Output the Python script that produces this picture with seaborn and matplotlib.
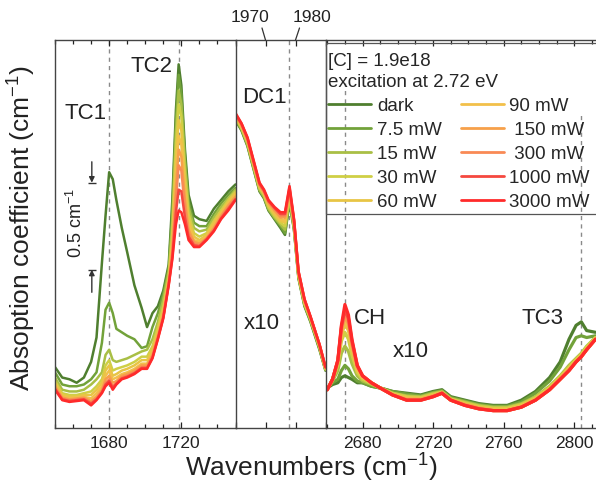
import matplotlib as mpl
import matplotlib.pyplot as plt
from matplotlib.ticker import MultipleLocator, NullLocator
from matplotlib.patches import Rectangle
from matplotlib.transforms import IdentityTransform
import seaborn as sns
import pandas as pd

sns.set_theme(style="ticks")
mpl.rcParams['font.family'] = ['Liberation Sans', 'DejaVu Sans']
mpl.rcParams['mathtext.fontset'] = 'custom'
mpl.rcParams['mathtext.rm'] = 'Liberation Sans'
mpl.rcParams['mathtext.it'] = 'Liberation Sans:italic'

# excitation powers and line colours
powers = ["dark", "7.5 mW", "15 mW", "30 mW", "60 mW",
          "90 mW", "150 mW", "300 mW", "1000 mW", "3000 mW"]
legend_labels = ["dark", "7.5 mW", "15 mW", "30 mW", "60 mW",
                 "90 mW", " 150 mW", " 300 mW", "1000 mW", "3000 mW"]
colors = ["#4f7f2f", "#72a23a", "#a9bf45", "#cfcf45", "#e8c545",
          "#f2c04a", "#f7a04a", "#f98a55", "#f5483f", "#ff2a2a"]

# TC1 / TC2 region
tc_wn = [1650, 1654, 1658, 1662, 1666, 1670, 1673, 1676, 1678, 1680, 1682, 1684,
         1687, 1690, 1694, 1698, 1701, 1704, 1707, 1710, 1713, 1715, 1717, 1718.5,
         1720, 1722, 1724, 1727, 1730, 1734, 1738, 1742, 1746, 1750]
tc_abs = [
    [0.35, 0.29, 0.28, 0.26, 0.29, 0.38, 0.52, 0.95, 1.22, 1.47, 1.43, 1.31, 1.15, 1.01, 0.82, 0.69, 0.58,
     0.66, 0.70, 0.79, 0.94, 1.31, 1.83, 2.09, 1.97, 1.60, 1.34, 1.22, 1.20, 1.19, 1.26, 1.31, 1.36, 1.40],
    [0.32, 0.25, 0.24, 0.24, 0.25, 0.28, 0.32, 0.49, 0.68, 0.72, 0.66, 0.57, 0.55, 0.53, 0.51, 0.46, 0.47,
     0.58, 0.66, 0.77, 0.92, 1.25, 1.77, 2.03, 1.92, 1.56, 1.30, 1.18, 1.16, 1.16, 1.23, 1.29, 1.34, 1.38],
    [0.29, 0.22, 0.21, 0.21, 0.22, 0.25, 0.28, 0.32, 0.42, 0.45, 0.39, 0.38, 0.39, 0.40, 0.42, 0.44, 0.45,
     0.51, 0.61, 0.74, 0.90, 1.18, 1.70, 1.94, 1.86, 1.52, 1.27, 1.15, 1.13, 1.14, 1.21, 1.27, 1.32, 1.37],
    [0.27, 0.20, 0.19, 0.19, 0.20, 0.21, 0.24, 0.28, 0.36, 0.39, 0.33, 0.34, 0.35, 0.36, 0.38, 0.41, 0.41,
     0.47, 0.58, 0.70, 0.87, 1.12, 1.62, 1.86, 1.79, 1.46, 1.23, 1.12, 1.10, 1.12, 1.19, 1.25, 1.31, 1.36],
    [0.26, 0.19, 0.18, 0.18, 0.19, 0.19, 0.22, 0.26, 0.33, 0.36, 0.30, 0.31, 0.33, 0.34, 0.36, 0.39, 0.39,
     0.45, 0.56, 0.68, 0.86, 1.08, 1.54, 1.77, 1.71, 1.41, 1.20, 1.10, 1.08, 1.11, 1.18, 1.24, 1.30, 1.35],
    [0.25, 0.18, 0.17, 0.175, 0.18, 0.17, 0.20, 0.24, 0.30, 0.33, 0.28, 0.29, 0.31, 0.32, 0.34, 0.37, 0.37,
     0.43, 0.54, 0.66, 0.85, 1.05, 1.46, 1.68, 1.63, 1.36, 1.17, 1.08, 1.07, 1.10, 1.16, 1.23, 1.29, 1.34],
    [0.24, 0.175, 0.165, 0.17, 0.175, 0.155, 0.18, 0.22, 0.28, 0.30, 0.26, 0.27, 0.30, 0.31, 0.33, 0.36, 0.36,
     0.42, 0.53, 0.65, 0.84, 1.02, 1.38, 1.60, 1.56, 1.31, 1.14, 1.07, 1.06, 1.09, 1.15, 1.22, 1.28, 1.33],
    [0.23, 0.17, 0.16, 0.165, 0.17, 0.145, 0.17, 0.21, 0.26, 0.28, 0.24, 0.26, 0.29, 0.30, 0.32, 0.35, 0.35,
     0.41, 0.52, 0.64, 0.83, 1.00, 1.31, 1.51, 1.48, 1.26, 1.12, 1.06, 1.05, 1.09, 1.14, 1.21, 1.27, 1.32],
    [0.225, 0.165, 0.155, 0.16, 0.165, 0.14, 0.165, 0.205, 0.25, 0.27, 0.23, 0.255, 0.285, 0.295, 0.315, 0.345,
     0.345, 0.405, 0.515, 0.635, 0.825, 0.98, 1.24, 1.37, 1.36, 1.21, 1.10, 1.05, 1.045, 1.085, 1.135, 1.205,
     1.26, 1.315],
    [0.22, 0.16, 0.15, 0.155, 0.16, 0.13, 0.16, 0.20, 0.24, 0.26, 0.22, 0.25, 0.28, 0.29, 0.31, 0.34, 0.34,
     0.40, 0.51, 0.63, 0.82, 0.97, 1.17, 1.25, 1.24, 1.17, 1.08, 1.04, 1.04, 1.08, 1.13, 1.20, 1.25, 1.31],
]

# DC1 region (x10)
dc_wn = [1960, 1962, 1964, 1966, 1968, 1969.5, 1971, 1973, 1975, 1976.5, 1978, 1979.5,
         1981, 1983, 1985, 1988, 1990]
dc_abs = [
    [1.77, 1.71, 1.62, 1.49, 1.36, 1.32, 1.25, 1.20, 1.15, 1.11, 1.30, 1.14, 0.86, 0.70, 0.61, 0.45, 0.33],
    [1.775, 1.715, 1.625, 1.495, 1.365, 1.325, 1.255, 1.205, 1.16, 1.12, 1.31, 1.145, 0.865, 0.705, 0.615, 0.455, 0.332],
    [1.78, 1.72, 1.63, 1.50, 1.37, 1.33, 1.26, 1.21, 1.17, 1.14, 1.32, 1.15, 0.87, 0.71, 0.62, 0.46, 0.335],
    [1.785, 1.725, 1.64, 1.51, 1.38, 1.34, 1.27, 1.22, 1.18, 1.16, 1.33, 1.16, 0.875, 0.715, 0.625, 0.465, 0.338],
    [1.79, 1.73, 1.645, 1.515, 1.385, 1.345, 1.28, 1.23, 1.19, 1.18, 1.34, 1.17, 0.88, 0.72, 0.63, 0.47, 0.34],
    [1.795, 1.735, 1.65, 1.52, 1.39, 1.35, 1.29, 1.24, 1.20, 1.19, 1.35, 1.18, 0.885, 0.725, 0.632, 0.472, 0.342],
    [1.80, 1.74, 1.655, 1.525, 1.395, 1.355, 1.295, 1.25, 1.21, 1.21, 1.36, 1.185, 0.89, 0.73, 0.635, 0.475, 0.345],
    [1.80, 1.745, 1.66, 1.53, 1.40, 1.36, 1.30, 1.26, 1.22, 1.22, 1.37, 1.19, 0.895, 0.735, 0.638, 0.478, 0.347],
    [1.805, 1.75, 1.665, 1.535, 1.405, 1.365, 1.305, 1.265, 1.23, 1.23, 1.38, 1.195, 0.90, 0.74, 0.64, 0.48, 0.35],
    [1.81, 1.75, 1.67, 1.54, 1.41, 1.37, 1.31, 1.27, 1.24, 1.24, 1.39, 1.20, 0.90, 0.74, 0.64, 0.48, 0.35],
]

# CH / TC3 region (x10)
ch_wn = [2660, 2663, 2666, 2668, 2670, 2672, 2674, 2677, 2680, 2685, 2690, 2697, 2705, 2713, 2720,
         2725, 2730, 2738, 2746, 2754, 2762, 2770, 2778, 2786, 2792, 2797, 2801, 2804, 2807, 2812]
ch_abs = [
    [0.23, 0.25, 0.26, 0.29, 0.30, 0.29, 0.28, 0.26, 0.26, 0.24, 0.23, 0.21, 0.20, 0.19, 0.21,
     0.22, 0.18, 0.16, 0.14, 0.13, 0.13, 0.16, 0.21, 0.29, 0.38, 0.51, 0.59, 0.61, 0.56, 0.55],
    [0.23, 0.26, 0.28, 0.33, 0.36, 0.34, 0.30, 0.27, 0.26, 0.24, 0.23, 0.21, 0.195, 0.185, 0.205,
     0.215, 0.175, 0.155, 0.135, 0.125, 0.125, 0.15, 0.20, 0.27, 0.35, 0.45, 0.52, 0.53, 0.52, 0.53],
    [0.225, 0.27, 0.33, 0.43, 0.47, 0.44, 0.37, 0.30, 0.27, 0.25, 0.23, 0.20, 0.185, 0.18, 0.20,
     0.21, 0.17, 0.15, 0.13, 0.12, 0.12, 0.14, 0.18, 0.24, 0.30, 0.36, 0.40, 0.43, 0.47, 0.52],
    [0.225, 0.275, 0.36, 0.50, 0.55, 0.51, 0.42, 0.32, 0.28, 0.255, 0.23, 0.20, 0.18, 0.175, 0.195,
     0.205, 0.165, 0.145, 0.125, 0.115, 0.115, 0.135, 0.175, 0.235, 0.295, 0.35, 0.395, 0.425, 0.465, 0.52],
    [0.22, 0.28, 0.37, 0.53, 0.60, 0.56, 0.45, 0.33, 0.29, 0.26, 0.23, 0.195, 0.175, 0.17, 0.19,
     0.205, 0.165, 0.14, 0.12, 0.11, 0.11, 0.13, 0.17, 0.23, 0.29, 0.345, 0.39, 0.42, 0.46, 0.515],
    [0.22, 0.28, 0.38, 0.55, 0.62, 0.58, 0.47, 0.34, 0.29, 0.26, 0.23, 0.195, 0.17, 0.165, 0.185,
     0.20, 0.16, 0.135, 0.115, 0.105, 0.105, 0.125, 0.165, 0.225, 0.285, 0.34, 0.385, 0.415, 0.455, 0.515],
    [0.22, 0.28, 0.38, 0.56, 0.64, 0.60, 0.48, 0.35, 0.30, 0.26, 0.23, 0.19, 0.165, 0.165, 0.185,
     0.20, 0.16, 0.135, 0.115, 0.10, 0.10, 0.12, 0.16, 0.22, 0.28, 0.335, 0.38, 0.41, 0.45, 0.51],
    [0.22, 0.28, 0.385, 0.57, 0.66, 0.62, 0.49, 0.355, 0.30, 0.26, 0.23, 0.19, 0.16, 0.16, 0.18,
     0.20, 0.16, 0.13, 0.11, 0.10, 0.10, 0.12, 0.16, 0.22, 0.28, 0.33, 0.38, 0.41, 0.45, 0.51],
    [0.22, 0.28, 0.39, 0.58, 0.68, 0.63, 0.50, 0.36, 0.30, 0.26, 0.23, 0.19, 0.16, 0.16, 0.18,
     0.20, 0.16, 0.13, 0.11, 0.10, 0.10, 0.12, 0.16, 0.22, 0.28, 0.33, 0.38, 0.41, 0.45, 0.51],
    [0.22, 0.28, 0.39, 0.59, 0.71, 0.65, 0.51, 0.36, 0.30, 0.26, 0.23, 0.19, 0.16, 0.16, 0.18,
     0.20, 0.16, 0.13, 0.11, 0.10, 0.10, 0.12, 0.16, 0.22, 0.28, 0.33, 0.38, 0.41, 0.45, 0.51],
]


def long_df(wn, curves):
    rows = []
    for name, ys in zip(powers, curves):
        for x, y in zip(wn, ys):
            rows.append({"wn": x, "abs": y, "power": name})
    return pd.DataFrame(rows)


palette = dict(zip(powers, colors))
text_c = "#222222"
edge_c = "#444444"

fig = plt.figure(figsize=(5.96, 4.97), dpi=100)
bot, hgt = 69 / 497, 388 / 497
ax1 = fig.add_axes([55 / 596, bot, 180.5 / 596, hgt])
ax2 = fig.add_axes([235.5 / 596, bot, 90 / 596, hgt])
ax3 = fig.add_axes([325.5 / 596, bot, 270.5 / 596, hgt])

for ax, wn, curves, lw in [(ax1, tc_wn, tc_abs, 1.8), (ax2, dc_wn, dc_abs, 1.9),
                           (ax3, ch_wn, ch_abs, 2.3)]:
    sns.lineplot(data=long_df(wn, curves), x="wn", y="abs", hue="power", hue_order=powers,
                 palette=palette, sort=False, estimator=None, lw=lw, legend=False, ax=ax)
    ax.set(xlabel="", ylabel="", ylim=(0, 2.23))
    ax.yaxis.set_major_locator(NullLocator())
    ax.tick_params(axis="x", which="both", direction="in", top=True, bottom=True,
                   labelsize=12.5, pad=6, colors=text_c, width=0.9)
    ax.tick_params(axis="x", which="major", length=4.5)
    ax.tick_params(axis="x", which="minor", length=2.6)
    ax.tick_params(axis="y", left=False, labelleft=False)
    for s in ax.spines.values():
        s.set_color(edge_c)
        s.set_linewidth(1.0)
    ax.spines["right"].set_visible(False)

line_handles = ax1.get_lines()[:len(powers)]

ax1.set_xlim(1650, 1750)
ax1.xaxis.set_major_locator(MultipleLocator(40))
ax1.xaxis.set_minor_locator(MultipleLocator(10))
ax2.set_xlim(1960, 1990)
ax2.xaxis.set_major_locator(MultipleLocator(10))
ax2.tick_params(axis="x", labelbottom=False)
ax3.set_xlim(2659, 2812.3)
ax3.xaxis.set_major_locator(MultipleLocator(40))
ax3.xaxis.set_minor_locator(MultipleLocator(10))

# peak markers
dash = dict(color="#8a8a8a", ls=(0, (3, 3)), lw=1.0, zorder=0)
ax1.axvline(1680, **dash)
ax1.axvline(1718.5, **dash)
ax2.axvline(1977.8, **dash)
ax3.axvline(2670, ymax=0.89, **dash)
ax3.axvline(2804, ymax=0.81, **dash)

lab = dict(fontsize=16, color=text_c, ha="center", va="center")
ax1.text(1667.2, 1.81, "TC1", **lab)
ax1.text(1703.3, 2.08, "TC2", **lab)
ax2.text(1969.5, 1.90, "DC1", **lab)
ax2.text(1968.7, 0.60, "x10", **lab)
ax3.text(2684.2, 0.63, "CH", **lab)
ax3.text(2707.5, 0.44, "x10", **lab)
ax3.text(2781.7, 0.63, "TC3", **lab)

# 0.5 cm-1 scale bar
x0 = 1670.4
arr = dict(arrowstyle="-|>", color="#333333", lw=1.0, mutation_scale=8, shrinkA=0, shrinkB=0)
ax1.annotate("", xy=(x0, 1.41), xytext=(x0, 1.53), arrowprops=arr)
ax1.annotate("", xy=(x0, 0.91), xytext=(x0, 0.78), arrowprops=arr)
ax1.hlines([0.91, 1.41], x0 - 2.3, x0 + 2.3, color="#333333", lw=1.0)
ax1.text(1661.7, 1.18, "0.5 cm$^{-1}$", rotation=90, fontsize=13, color=text_c,
         ha="center", va="center")

# top-axis labels for the DC1 panel
for val, dx_txt, dx_line in [(1970, -16, -3.5), (1980, 16, 4)]:
    ax2.annotate(str(val), xy=(val, 1), xycoords=("data", "axes fraction"),
                 xytext=(dx_txt, 23), textcoords="offset pixels", fontsize=12.5,
                 color=text_c, ha="center", va="center", annotation_clip=False)
    ax2.annotate("", xy=(val, 1), xycoords=("data", "axes fraction"),
                 xytext=(dx_line, 12), textcoords="offset pixels", annotation_clip=False,
                 arrowprops=dict(arrowstyle="-", color="#333333", lw=0.9, shrinkA=0, shrinkB=0))

leg = ax3.legend(line_handles, legend_labels, ncol=2, loc="upper left",
                 bbox_to_anchor=(0, 1 - 10 / 388), borderaxespad=0,
                 title="[C] = 1.9e18\nexcitation at 2.72 eV", alignment="left",
                 fontsize=13.5, title_fontsize=13.5, frameon=False,
                 handlelength=2.3, handletextpad=0.3,
                 columnspacing=1.0, labelspacing=0.37, borderpad=0.15)
leg.get_title().set_linespacing(1.3)
for h in leg.legend_handles:
    h.set_linewidth(2.0)

fig.text(22 / 596, 1 - 228 / 497, "Absoption coefficient (cm$^{-1}$)", rotation=90,
         fontsize=19, color=text_c, ha="center", va="center")
fig.text(311 / 596, 1 - 468 / 497, "Wavenumbers (cm$^{-1}$)",
         fontsize=19, color=text_c, ha="center", va="center")

# legend frame with a little extra room above the title
fig.canvas.draw()
bb = leg.get_window_extent()
fig.add_artist(Rectangle((bb.x0, bb.y0), bb.width + 20, bb.height + 7,
                         transform=IdentityTransform(), fill=False,
                         edgecolor="#555555", lw=0.9))

fig.savefig("out.png", dpi=100)
